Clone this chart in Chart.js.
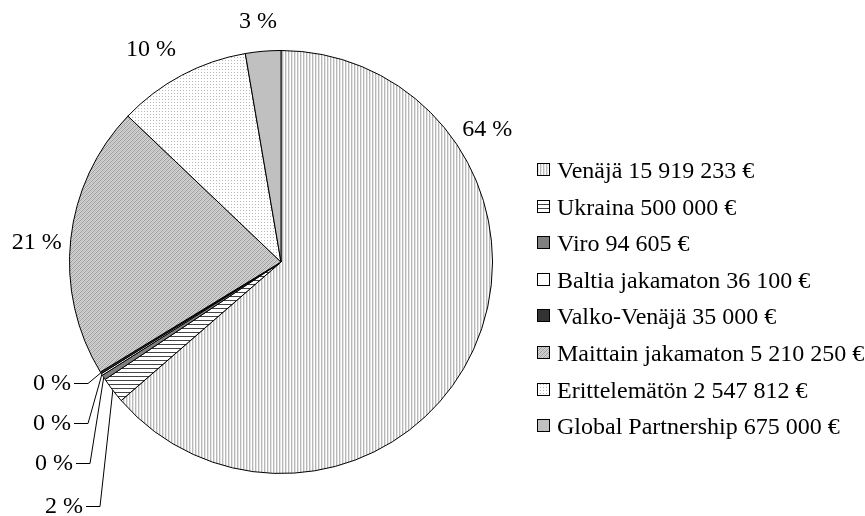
<!DOCTYPE html>
<html><head><meta charset="utf-8">
<script src="https://cdn.jsdelivr.net/npm/chart.js@4"></script>
<style>html,body{margin:0;padding:0;background:#fff}#wrap{width:865px;height:516px;position:relative}</style>
</head><body><div id="wrap"><canvas id="c"></canvas></div>
<script>
// ---- data ----
const categories = ['Venäjä','Ukraina','Viro','Baltia jakamaton','Valko-Venäjä','Maittain jakamaton','Erittelemätön','Global Partnership'];
const amounts = [15919233, 500000, 94605, 36100, 35000, 5210250, 2547812, 675000];
const currencyUnit = '€';

// ---- styles ----
const FONT = '24px "Liberation Serif", "Times New Roman", serif';
function makePattern(w, h, draw) {
  const c = document.createElement('canvas'); c.width = w; c.height = h;
  const x = c.getContext('2d'); draw(x);
  return document.createElement('canvas').getContext('2d').createPattern(c, 'repeat');
}
const fills = [
  makePattern(3, 1, x => { x.fillStyle = '#fff'; x.fillRect(0,0,3,1); x.fillStyle = '#b8b8b8'; x.fillRect(0,0,1,1); x.fillStyle = '#e4e4e4'; x.fillRect(1,0,1,1); }),
  makePattern(1, 4, x => { x.fillStyle = '#fff'; x.fillRect(0,0,1,4); x.fillStyle = '#444'; x.fillRect(0,0,1,1); }),
  '#808080',
  '#ffffff',
  '#333333',
  makePattern(4, 4, x => { x.fillStyle = '#d4d4d4'; x.fillRect(0,0,4,4);
    for (let yy=0; yy<4; yy++) for (let xx=0; xx<4; xx++) {
      const k = (xx + yy) % 4;
      if (k === 0) { x.fillStyle = '#9c9c9c'; x.fillRect(xx,yy,1,1); }
      else if (k === 2) { x.fillStyle = '#bdbdbd'; x.fillRect(xx,yy,1,1); }
    } }),
  makePattern(3, 3, x => { x.fillStyle = '#fff'; x.fillRect(0,0,3,3); x.fillStyle = '#b8b8b8'; x.fillRect(0,0,1,1); }),
  '#c0c0c0'
];

function fmt(n) { return String(n).replace(/\B(?=(\d{3})+(?!\d))/g, ' '); }

// label placement (angle clockwise from top in degrees, distance from pie centre)
const outsideLabels = {0:{deg:57.3,dist:245}, 5:{deg:274.5,dist:245}, 6:{deg:328.5,dist:248.7}, 7:{deg:354.5,dist:241}};
// leader-line labels: elbow offset from pie centre
const leaderLabels = {4:{dx:-193,dy:121}, 3:{dx:-193,dy:161}, 2:{dx:-191,dy:201}, 1:{dx:-181,dy:244}};

const labelPlugin = {
  id: 'labels',
  afterDatasetsDraw(chart) {
    const ctx = chart.ctx;
    const meta = chart.getDatasetMeta(0);
    const total = amounts.reduce((a,b)=>a+b,0);
    ctx.save();
    ctx.font = FONT;
    ctx.fillStyle = '#000';
    ctx.strokeStyle = '#000';
    ctx.lineWidth = 1;
    ctx.textBaseline = 'middle';
    meta.data.forEach((arc, i) => {
      const txt = Math.round(amounts[i] / total * 100) + ' %';
      const cx = arc.x, cy = arc.y;
      if (outsideLabels[i]) {
        const o = outsideLabels[i];
        const a = (o.deg - 90) * Math.PI / 180;
        ctx.textAlign = 'center';
        ctx.fillText(txt, cx + Math.cos(a) * o.dist, cy + Math.sin(a) * o.dist);
      } else if (leaderLabels[i]) {
        const l = leaderLabels[i];
        const ex = cx + l.dx, ey = cy + l.dy;
        const mid = (arc.startAngle + arc.endAngle) / 2;
        const px = cx + Math.cos(mid) * arc.outerRadius, py = cy + Math.sin(mid) * arc.outerRadius;
        ctx.beginPath();
        ctx.moveTo(ex - 14, ey + 0.5);
        ctx.lineTo(ex, ey + 0.5);
        ctx.lineTo(px, py);
        ctx.stroke();
        ctx.textAlign = 'right';
        ctx.fillText(txt, ex - 17, ey + 1);
      }
    });
    // legend
    ctx.textAlign = 'left';
    ctx.textBaseline = 'alphabetic';
    categories.forEach((name, i) => {
      const base = 178 + i * 36.6;
      ctx.fillStyle = fills[i];
      ctx.fillRect(537.5, Math.round(base) - 14.5, 12, 12);
      ctx.strokeRect(537.5, Math.round(base) - 14.5, 12, 12);
      ctx.fillStyle = '#000';
      ctx.fillText(name + ' ' + fmt(amounts[i]) + ' ' + currencyUnit, 557, Math.round(base));
    });
    ctx.restore();
  }
};

new Chart(document.getElementById('c'), {
  type: 'pie',
  data: {
    labels: categories,
    datasets: [{
      data: amounts,
      backgroundColor: fills,
      borderColor: '#000',
      borderWidth: 1
    }]
  },
  options: {
    responsive: true,
    maintainAspectRatio: false,
    animation: false,
    layout: { padding: { left: 69, top: 50, right: 372, bottom: 42 } },
    plugins: { legend: { display: false }, tooltip: { enabled: false } }
  },
  plugins: [labelPlugin]
});
</script>
</body></html>
